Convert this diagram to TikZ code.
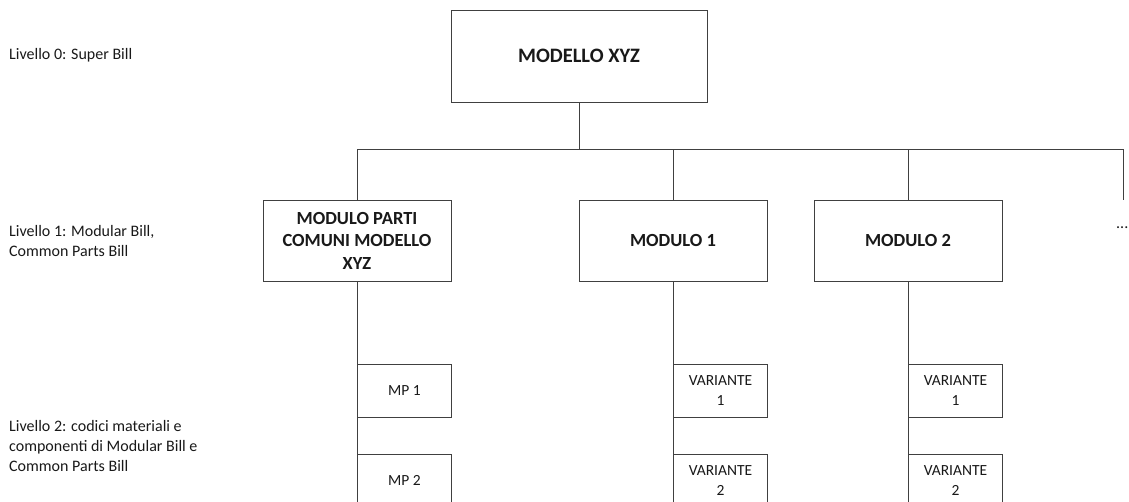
\documentclass[tikz,border=0pt]{standalone}
\usepackage{fontspec}
\setmainfont{Carlito}
\begin{document}
\begin{tikzpicture}[x=1pt, y=-1pt,
  every node/.style={text=black!90},
  link/.style={draw=black!75, line width=0.95pt},
  box/.style={draw=black!75, line width=0.95pt, fill=white, rectangle, inner sep=0pt, align=center},
  topbox/.style={box, minimum width=256pt, minimum height=92pt, font=\fontsize{20.5}{25}\selectfont\bfseries},
  modbox/.style={box, minimum width=188pt, minimum height=81pt, font=\fontsize{18.5}{22.5}\selectfont\bfseries},
  partbox/.style={box, minimum width=94pt, minimum height=53pt, font=\fontsize{15.5}{20}\selectfont},
  levellabel/.style={anchor=west, align=left, inner sep=0pt, font=\fontsize{16}{20}\selectfont}
]
\useasboundingbox (0,0) rectangle (1129,502);
\clip (0,0) rectangle (1129,502);

% level labels
\node[levellabel] (l0) at (9,55) {Livello 0: Super Bill};
\node[levellabel] (l1) at (9,241) {Livello 1: Modular Bill,\\Common Parts Bill};
\node[levellabel] (l2) at (9,446) {Livello 2: codici materiali e\\componenti di Modular Bill e\\Common Parts Bill};

% level 0
\node[topbox] (top) at (579,56) {MODELLO XYZ};

% level 1
\node[modbox] (mc) at (357,240.5) {MODULO PARTI\\COMUNI MODELLO\\XYZ};
\node[modbox] (m1) at (673,240.5) {MODULO 1};
\node[modbox] (m2) at (908,240.5) {MODULO 2};
\coordinate (moreend) at (1123,200);
\node[anchor=base west, inner sep=0pt, font=\fontsize{16}{20}\selectfont] (more) at (1116,229) {...};

% tree links from level 0 to level 1
\foreach \child in {mc,m1,m2} {
  \draw[link] (top.south) -- ++(0,47) -| (\child.north);
}
\draw[link] (top.south) -- ++(0,47) -| (moreend);

% column lines running down to level 2
\coordinate (mcend) at (357,510);
\coordinate (m1end) at (673,510);
\coordinate (m2end) at (908,510);
\draw[link] (mc.south) -- (mcend);
\draw[link] (m1.south) -- (m1end);
\draw[link] (m2.south) -- (m2end);

% level 2
\node[partbox, anchor=north west] (mp1) at (357,364) {MP 1};
\node[partbox, anchor=north west] (mp2) at (357,453.5) {MP 2};
\node[partbox, anchor=north west] (v11) at (673,364) {VARIANTE\\1};
\node[partbox, anchor=north west] (v12) at (673,453.5) {VARIANTE\\2};
\node[partbox, anchor=north west] (v21) at (908,364) {VARIANTE\\1};
\node[partbox, anchor=north west] (v22) at (908,453.5) {VARIANTE\\2};
\end{tikzpicture}
\end{document}
